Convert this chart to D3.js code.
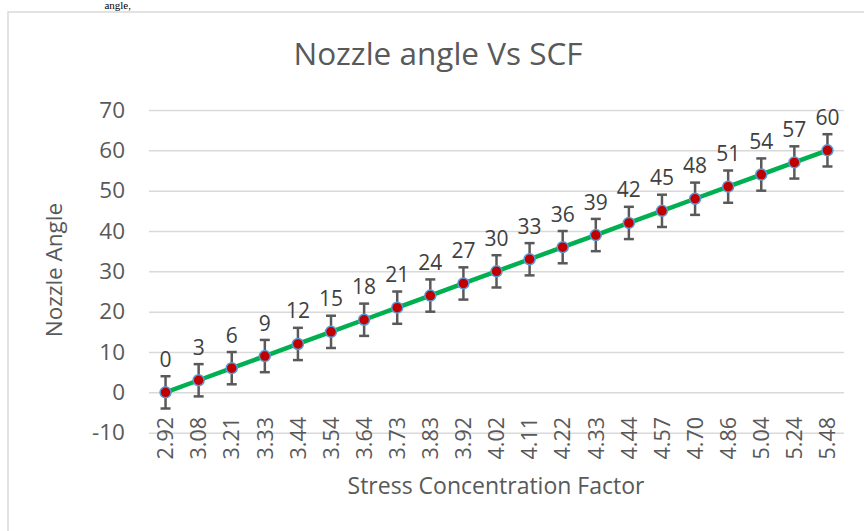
<!DOCTYPE html>
<html>
<head>
<meta charset="utf-8">
<script src="https://cdn.jsdelivr.net/npm/d3@7"></script>
<style>
  html, body { margin: 0; padding: 0; background: #fff; }
  svg { display: block; }
  text { font-family: "Open Sans", sans-serif; }
</style>
</head>
<body>
<svg id="chart" width="864" height="531"></svg>
<script>
const categories = ["2.92","3.08","3.21","3.33","3.44","3.54","3.64","3.73","3.83","3.92","4.02","4.11","4.22","4.33","4.44","4.57","4.70","4.86","5.04","5.24","5.48"];
const nozzleAngle = [0,3,6,9,12,15,18,21,24,27,30,33,36,39,42,45,48,51,54,57,60];
const errorAmount = [4,4,4,4,4,4,4,4,4,4,4,4,4,4,4,4,4,4,4,4,4];
const yTicks = [-10,0,10,20,30,40,50,60,70];

const title = "Nozzle angle Vs SCF";
const xTitle = "Stress Concentration Factor";
const yTitle = "Nozzle Angle";

const svg = d3.select("#chart");
const textColor = "#595959";

// page fragment above chart
svg.append("text")
  .attr("x", 131).attr("y", 9)
  .attr("text-anchor", "end")
  .style("font-family", "'Liberation Serif', serif")
  .style("font-size", "11px")
  .attr("fill", "#000")
  .text("angle,");

// chart border
svg.append("rect")
  .attr("x", 8).attr("y", 12)
  .attr("width", 880).attr("height", 540)
  .attr("fill", "#fff")
  .attr("stroke", "#D9D9D9")
  .attr("stroke-width", 1.5);

const plot = { left: 149, right: 844, top: 110, bottom: 432.7 };

const x = d3.scaleBand().domain(categories).range([plot.left, plot.right]);
const cx = c => x(c) + x.bandwidth() / 2;
const y = d3.scaleLinear().domain([-10, 70]).range([plot.bottom, plot.top]);

// Y axis with gridlines
const yAxis = svg.append("g")
  .attr("transform", `translate(${plot.left},0)`)
  .call(d3.axisLeft(y).tickValues(yTicks).tickSize(-(plot.right - plot.left)).tickPadding(24).tickFormat(d => String(d)));
yAxis.select(".domain").remove();
yAxis.selectAll(".tick line").attr("stroke", "#D9D9D9").attr("stroke-width", 1.5);
yAxis.selectAll(".tick text")
  .attr("fill", textColor)
  .style("font-size", "22.5px")
  .style("font-family", "'Open Sans', sans-serif");

// X axis labels (rotated)
const xAxis = svg.append("g")
  .attr("transform", `translate(0,417)`)
  .call(d3.axisBottom(x).tickSize(0));
xAxis.select(".domain").remove();
xAxis.selectAll(".tick text")
  .attr("x", 0).attr("y", 0).attr("dy", "0.36em")
  .attr("transform", "rotate(-90)")
  .style("text-anchor", "end")
  .attr("fill", textColor)
  .style("font-size", "21.5px")
  .style("font-family", "'Open Sans', sans-serif");

const data = categories.map((c, i) => ({ c, v: nozzleAngle[i], e: errorAmount[i] }));

// Error bars
const eb = svg.append("g").attr("stroke", "#595959").attr("stroke-width", 2.5);
data.forEach(d => {
  const xc = cx(d.c);
  eb.append("line").attr("x1", xc).attr("x2", xc).attr("y1", y(d.v - d.e)).attr("y2", y(d.v + d.e));
  eb.append("line").attr("x1", xc - 5).attr("x2", xc + 5).attr("y1", y(d.v + d.e)).attr("y2", y(d.v + d.e));
  eb.append("line").attr("x1", xc - 5).attr("x2", xc + 5).attr("y1", y(d.v - d.e)).attr("y2", y(d.v - d.e));
});

// Line
svg.append("path")
  .datum(data)
  .attr("fill", "none")
  .attr("stroke", "#00B050")
  .attr("stroke-width", 4.5)
  .attr("stroke-linejoin", "round")
  .attr("d", d3.line().x(d => cx(d.c)).y(d => y(d.v)));

// Markers
svg.append("g").selectAll("circle")
  .data(data).join("circle")
  .attr("cx", d => cx(d.c))
  .attr("cy", d => y(d.v))
  .attr("r", 5.5)
  .attr("fill", "#C00000")
  .attr("stroke", "#5B9BD5")
  .attr("stroke-width", 1.5);

// Data labels
svg.append("g").selectAll("text")
  .data(data).join("text")
  .attr("x", d => cx(d.c))
  .attr("y", d => y(d.v) - 25.5)
  .attr("text-anchor", "middle")
  .attr("fill", "#404040")
  .style("font-size", "21px")
  .text(d => d.v);

// Title
svg.append("text")
  .attr("x", 438).attr("y", 65)
  .attr("text-anchor", "middle")
  .attr("fill", textColor)
  .style("font-size", "31.5px")
  .text(title);

// X title
svg.append("text")
  .attr("x", 496).attr("y", 494)
  .attr("text-anchor", "middle")
  .attr("fill", textColor)
  .style("font-size", "23px")
  .text(xTitle);

// Y title
svg.append("text")
  .attr("transform", "translate(62,270) rotate(-90)")
  .attr("text-anchor", "middle")
  .attr("fill", textColor)
  .style("font-size", "22.5px")
  .text(yTitle);
</script>
</body>
</html>
